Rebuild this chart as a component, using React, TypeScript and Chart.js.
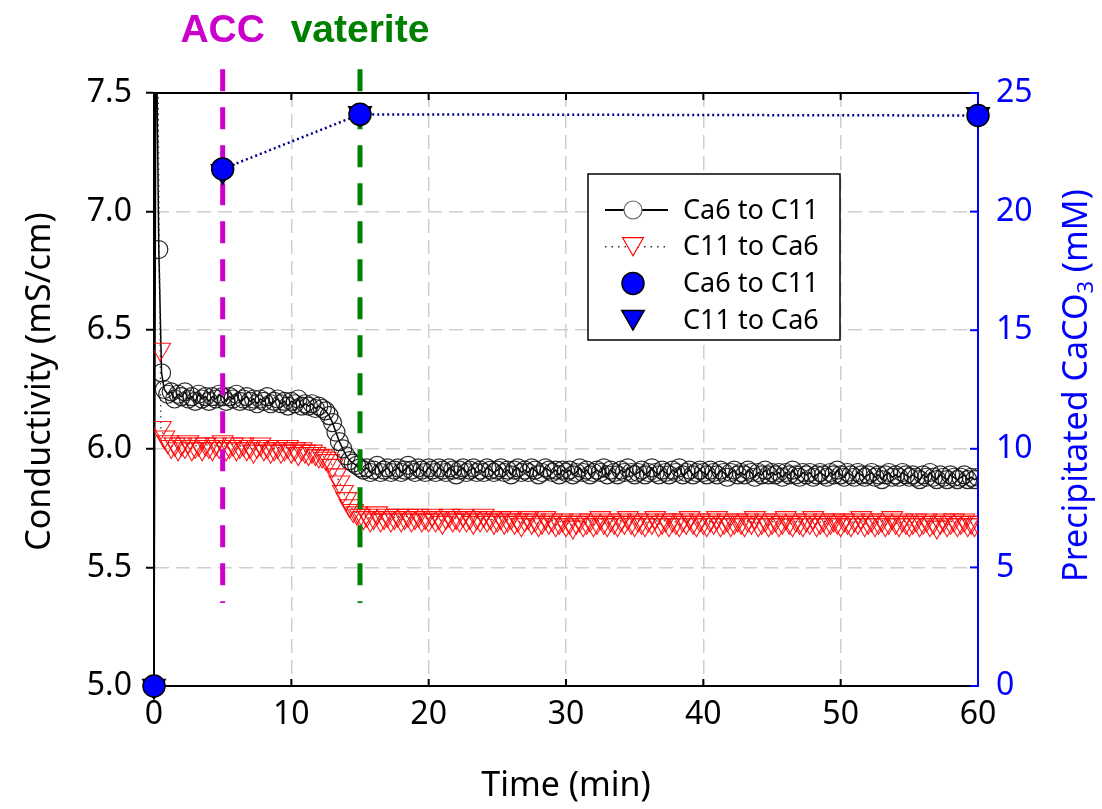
import React, { useEffect, useRef } from "react";
import { Chart, registerables } from "chart.js";

Chart.register(...registerables);

// ---------------- DATA ----------------
// Shared sampling times (min) after the initial spike
const timeMain = [
  1, 1.25, 1.5, 1.75, 2, 2.25, 2.5, 2.75, 3, 3.25, 3.5, 3.75, 4, 4.25, 4.5, 4.75, 5, 5.25, 5.5, 5.75,
  6, 6.25, 6.5, 6.75, 7, 7.25, 7.5, 7.75, 8, 8.25, 8.5, 8.75, 9, 9.25, 9.5, 9.75, 10, 10.25, 10.5, 10.75,
  11, 11.25, 11.5, 11.75, 12, 12.25, 12.5, 12.75, 13, 13.25, 13.5, 13.75, 14, 14.25, 14.5, 14.75, 15,
  15.25, 15.5, 15.75, 16, 16.25, 16.5, 16.75, 17, 17.25, 17.5, 17.75, 18, 18.25, 18.5, 18.75, 19, 19.25, 19.5, 19.75, 20,
  20.25, 20.5, 20.75, 21, 21.25, 21.5, 21.75, 22, 22.25, 22.5, 22.75, 23, 23.25, 23.5, 23.75, 24, 24.25, 24.5, 24.75, 25,
  25.25, 25.5, 25.75, 26, 26.25, 26.5, 26.75, 27, 27.25, 27.5, 27.75, 28, 28.25, 28.5, 28.75, 29, 29.25, 29.5, 29.75, 30,
  30.25, 30.5, 30.75, 31, 31.25, 31.5, 31.75, 32, 32.25, 32.5, 32.75, 33, 33.25, 33.5, 33.75, 34, 34.25, 34.5, 34.75, 35,
  35.25, 35.5, 35.75, 36, 36.25, 36.5, 36.75, 37, 37.25, 37.5, 37.75, 38, 38.25, 38.5, 38.75, 39, 39.25, 39.5, 39.75, 40,
  40.25, 40.5, 40.75, 41, 41.25, 41.5, 41.75, 42, 42.25, 42.5, 42.75, 43, 43.25, 43.5, 43.75, 44, 44.25, 44.5, 44.75, 45,
  45.25, 45.5, 45.75, 46, 46.25, 46.5, 46.75, 47, 47.25, 47.5, 47.75, 48, 48.25, 48.5, 48.75, 49, 49.25, 49.5, 49.75, 50,
  50.25, 50.5, 50.75, 51, 51.25, 51.5, 51.75, 52, 52.25, 52.5, 52.75, 53, 53.25, 53.5, 53.75, 54, 54.25, 54.5, 54.75, 55,
  55.25, 55.5, 55.75, 56, 56.25, 56.5, 56.75, 57, 57.25, 57.5, 57.75, 58, 58.25, 58.5, 58.75, 59, 59.25, 59.5, 59.75, 60,
];

// Conductivity (mS/cm), "Ca6 to C11" (open black circles, solid line)
const timeStartCa6C11 = [0, 0.15, 0.35, 0.55, 0.75];
const condStartCa6C11 = [5.0, 7.9, 6.84, 6.32, 6.25];
const condCa6C11 = [
  6.23, 6.24, 6.21, 6.23, 6.22, 6.24, 6.21, 6.22, 6.2, 6.23, 6.21, 6.22, 6.2, 6.22, 6.21, 6.23, 6.22, 6.2, 6.22, 6.21,
  6.23, 6.2, 6.21, 6.22, 6.2, 6.21, 6.19, 6.21, 6.2, 6.22, 6.19, 6.2, 6.21, 6.19, 6.2, 6.18, 6.2, 6.19, 6.21, 6.18,
  6.19, 6.18, 6.19, 6.17, 6.18, 6.17, 6.16, 6.14, 6.11, 6.07, 6.03, 6.0, 5.97, 5.95, 5.94, 5.93, 5.92,
  5.91, 5.92, 5.9, 5.91, 5.93, 5.9, 5.91, 5.92, 5.9, 5.91, 5.92, 5.9, 5.91, 5.93, 5.91, 5.9, 5.92, 5.91, 5.9, 5.92,
  5.91, 5.9, 5.92, 5.91, 5.9, 5.92, 5.91, 5.89, 5.91, 5.92, 5.9, 5.91, 5.92, 5.9, 5.91, 5.9, 5.92, 5.91, 5.9, 5.91,
  5.92, 5.9, 5.91, 5.89, 5.91, 5.92, 5.9, 5.91, 5.9, 5.92, 5.91, 5.89, 5.9, 5.92, 5.91, 5.9, 5.91, 5.89, 5.91, 5.9,
  5.91, 5.89, 5.9, 5.92, 5.9, 5.91, 5.89, 5.9, 5.91, 5.9, 5.92, 5.89, 5.91, 5.9, 5.89, 5.91, 5.9, 5.92, 5.9, 5.89,
  5.9, 5.91, 5.89, 5.9, 5.92, 5.9, 5.89, 5.91, 5.9, 5.89, 5.91, 5.9, 5.92, 5.89, 5.9, 5.91, 5.89, 5.9, 5.91, 5.9,
  5.89, 5.91, 5.9, 5.89, 5.91, 5.9, 5.88, 5.9, 5.91, 5.89, 5.9, 5.89, 5.91, 5.9, 5.88, 5.9, 5.89, 5.91, 5.89, 5.9,
  5.89, 5.9, 5.88, 5.9, 5.89, 5.91, 5.89, 5.88, 5.9, 5.89, 5.9, 5.88, 5.89, 5.9, 5.89, 5.88, 5.9, 5.89, 5.91, 5.89,
  5.88, 5.9, 5.89, 5.88, 5.9, 5.89, 5.88, 5.89, 5.9, 5.88, 5.89, 5.87, 5.89, 5.9, 5.88, 5.89, 5.88, 5.9, 5.89, 5.88,
  5.89, 5.88, 5.87, 5.89, 5.88, 5.9, 5.88, 5.87, 5.89, 5.88, 5.87, 5.89, 5.88, 5.87, 5.88, 5.89, 5.87, 5.88, 5.87, 5.88,
];

// Conductivity (mS/cm), "C11 to Ca6" (open red down-triangles, dotted line)
const timeStartC11Ca6 = [0.25, 0.45, 0.5, 0.75];
const condStartC11Ca6 = [7.9, 6.42, 6.09, 6.05];
const condC11Ca6 = [
  6.03, 6.01, 6.02, 6.0, 6.02, 6.01, 6.03, 6.0, 6.01, 6.02, 6.0, 6.02, 6.01, 6.0, 6.02, 6.01, 6.03, 6.0, 6.01, 6.02,
  6.0, 6.01, 6.02, 6.0, 6.01, 5.99, 6.01, 6.02, 6.0, 6.01, 5.99, 6.0, 6.01, 5.99, 6.0, 6.01, 5.99, 6.0, 5.98, 6.0,
  5.99, 5.98, 5.99, 5.98, 5.97, 5.97, 5.96, 5.95, 5.93, 5.89, 5.86, 5.82, 5.79, 5.76, 5.74, 5.73, 5.72,
  5.71, 5.72, 5.7, 5.71, 5.73, 5.7, 5.71, 5.72, 5.7, 5.71, 5.72, 5.7, 5.71, 5.72, 5.7, 5.71, 5.72, 5.7, 5.71, 5.7,
  5.72, 5.7, 5.71, 5.69, 5.71, 5.72, 5.7, 5.71, 5.7, 5.72, 5.7, 5.71, 5.69, 5.71, 5.7, 5.72, 5.7, 5.71, 5.69, 5.7,
  5.71, 5.69, 5.7, 5.71, 5.69, 5.7, 5.68, 5.7, 5.71, 5.69, 5.7, 5.68, 5.69, 5.71, 5.69, 5.7, 5.68, 5.69, 5.7, 5.68,
  5.69, 5.67, 5.69, 5.7, 5.68, 5.69, 5.7, 5.68, 5.69, 5.71, 5.69, 5.68, 5.7, 5.69, 5.68, 5.7, 5.69, 5.71, 5.69, 5.68,
  5.7, 5.69, 5.68, 5.7, 5.69, 5.71, 5.68, 5.69, 5.7, 5.68, 5.7, 5.69, 5.68, 5.7, 5.69, 5.71, 5.69, 5.68, 5.7, 5.69,
  5.68, 5.7, 5.69, 5.71, 5.68, 5.69, 5.7, 5.68, 5.69, 5.7, 5.69, 5.68, 5.7, 5.69, 5.71, 5.68, 5.69, 5.7, 5.68, 5.69,
  5.7, 5.68, 5.69, 5.71, 5.69, 5.68, 5.7, 5.69, 5.68, 5.7, 5.69, 5.71, 5.68, 5.69, 5.7, 5.68, 5.69, 5.7, 5.69, 5.68,
  5.7, 5.69, 5.68, 5.7, 5.69, 5.71, 5.68, 5.69, 5.7, 5.68, 5.69, 5.7, 5.68, 5.69, 5.71, 5.69, 5.68, 5.7, 5.69, 5.68,
  5.69, 5.7, 5.68, 5.69, 5.7, 5.68, 5.69, 5.67, 5.69, 5.7, 5.68, 5.69, 5.7, 5.68, 5.69, 5.7, 5.68, 5.69, 5.68, 5.69,
];

// Precipitated CaCO3 (mM), right axis
const precipTime = [0, 5, 15, 60];
const precipCa6C11 = [0, 21.8, 24.1, 24.05];
const precipC11Ca6 = [0, 21.7, 24.15, 24.1];

// Annotations
const annotationTimes = [5, 15];
const annotationLabels = ["ACC", "vaterite"];
const annotationColors = ["#cc00cc", "#008000"];
const annotationExtent = [5.35, 7.6]; // conductivity range covered by the dashed markers

const seriesLabels = ["Ca6 to C11", "C11 to Ca6", "Ca6 to C11", "C11 to Ca6"];

// Axis titles
const xTitle = "Time (min)";
const yTitle = "Conductivity (mS/cm)";
const y1TitleParts = ["Precipitated CaCO", "3", " (mM)"];

// ---------------- STYLE ----------------
const FONT = "'Noto Sans', 'DejaVu Sans', sans-serif";
const GRID = "#cfcfcf";

function drawCircle(ctx: CanvasRenderingContext2D, x: number, y: number, r: number, fill: string | null, stroke: string, lw: number) {
  ctx.beginPath();
  ctx.arc(x, y, r, 0, Math.PI * 2);
  if (fill) {
    ctx.fillStyle = fill;
    ctx.fill();
  }
  ctx.lineWidth = lw;
  ctx.strokeStyle = stroke;
  ctx.stroke();
}

function drawDownTriangle(ctx: CanvasRenderingContext2D, x: number, y: number, r: number, fill: string | null, stroke: string, lw: number) {
  const h = (r * Math.sqrt(3)) / 2;
  ctx.beginPath();
  ctx.moveTo(x, y + r);
  ctx.lineTo(x - h, y - r / 2);
  ctx.lineTo(x + h, y - r / 2);
  ctx.closePath();
  if (fill) {
    ctx.fillStyle = fill;
    ctx.fill();
  }
  ctx.lineWidth = lw;
  ctx.strokeStyle = stroke;
  ctx.stroke();
}

const overlayPlugin = {
  id: "overlay",
  afterDatasetDraw(chart: any, args: any) {
    if (args.index !== 1) return;
    const ctx: CanvasRenderingContext2D = chart.ctx;
    const xs = chart.scales.x;
    const ys = chart.scales.y;
    ctx.save();
    annotationTimes.forEach((t, i) => {
      const px = xs.getPixelForValue(t);
      ctx.beginPath();
      ctx.setLineDash([22, 16]);
      ctx.lineWidth = 5;
      ctx.strokeStyle = annotationColors[i];
      ctx.moveTo(px, ys.getPixelForValue(annotationExtent[1]));
      ctx.lineTo(px, ys.getPixelForValue(annotationExtent[0]));
      ctx.stroke();
    });
    ctx.restore();
  },
  afterDraw(chart: any) {
    const ctx: CanvasRenderingContext2D = chart.ctx;
    const xs = chart.scales.x;
    const y1 = chart.scales.y1;
    const { left, right, top, bottom } = chart.chartArea;
    ctx.save();
    ctx.setLineDash([]);

    // top border
    ctx.beginPath();
    ctx.strokeStyle = "#000";
    ctx.lineWidth = 2;
    ctx.moveTo(left - 1, top);
    ctx.lineTo(right, top);
    ctx.stroke();

    // inward x ticks (bottom and top)
    xs.ticks.forEach((tk: any) => {
      const px = xs.getPixelForValue(tk.value);
      if (tk.value === 0 || tk.value === 60) return;
      ctx.beginPath();
      ctx.moveTo(px, bottom);
      ctx.lineTo(px, bottom - 7);
      ctx.moveTo(px, top);
      ctx.lineTo(px, top + 7);
      ctx.stroke();
    });

    // inward right-axis ticks
    ctx.strokeStyle = "#0000ff";
    y1.ticks.forEach((tk: any) => {
      const py = y1.getPixelForValue(tk.value);
      ctx.beginPath();
      ctx.moveTo(right, py);
      ctx.lineTo(right - 8, py);
      ctx.stroke();
    });

    // annotation labels
    ctx.font = `bold 39px 'Liberation Sans', Arial, sans-serif`;
    ctx.textAlign = "center";
    ctx.textBaseline = "alphabetic";
    annotationTimes.forEach((t, i) => {
      ctx.fillStyle = annotationColors[i];
      ctx.fillText(annotationLabels[i], xs.getPixelForValue(t), 42);
    });

    // axis titles
    ctx.fillStyle = "#000";
    ctx.font = `34px ${FONT}`;
    ctx.textAlign = "center";
    ctx.textBaseline = "middle";
    ctx.fillText(xTitle, (left + right) / 2, 786);

    ctx.save();
    ctx.translate(40, (top + bottom) / 2 - 8);
    ctx.rotate(-Math.PI / 2);
    ctx.fillText(yTitle, 0, 0);
    ctx.restore();

    // right title with subscript
    ctx.save();
    ctx.fillStyle = "#0000ff";
    const mainFont = `34px ${FONT}`;
    const subFont = `22px ${FONT}`;
    ctx.font = mainFont;
    const w0 = ctx.measureText(y1TitleParts[0]).width;
    const w2 = ctx.measureText(y1TitleParts[2]).width;
    ctx.font = subFont;
    const w1 = ctx.measureText(y1TitleParts[1]).width;
    const total = w0 + w1 + w2;
    ctx.translate(1077, (top + bottom) / 2 - 4);
    ctx.rotate(-Math.PI / 2);
    ctx.textAlign = "left";
    ctx.textBaseline = "middle";
    let cx = -total / 2;
    ctx.font = mainFont;
    ctx.fillText(y1TitleParts[0], cx, 0);
    cx += w0;
    ctx.font = subFont;
    ctx.fillText(y1TitleParts[1], cx, 10);
    cx += w1;
    ctx.font = mainFont;
    ctx.fillText(y1TitleParts[2], cx, 0);
    ctx.restore();

    // legend
    const lx = 588, ly = 174, lw = 252, lh = 166;
    ctx.fillStyle = "#fff";
    ctx.fillRect(lx, ly, lw, lh);
    ctx.strokeStyle = "#000";
    ctx.lineWidth = 1.5;
    ctx.strokeRect(lx, ly, lw, lh);
    const rowY = (i: number) => ly + 36 + i * 36.7;
    const symX = lx + 45;
    ctx.beginPath();
    ctx.lineWidth = 2;
    ctx.strokeStyle = "#000";
    ctx.moveTo(lx + 17, rowY(0));
    ctx.lineTo(lx + 80, rowY(0));
    ctx.stroke();
    drawCircle(ctx, symX, rowY(0), 9, "#fff", "#666", 1.2);
    ctx.beginPath();
    ctx.setLineDash([1.5, 5]);
    ctx.lineWidth = 1.5;
    ctx.strokeStyle = "#333";
    ctx.moveTo(lx + 17, rowY(1));
    ctx.lineTo(lx + 80, rowY(1));
    ctx.stroke();
    ctx.setLineDash([]);
    drawDownTriangle(ctx, symX, rowY(1) - 3, 12, "#fff", "#ff0000", 1.2);
    drawCircle(ctx, symX, rowY(2), 11, "#0000ff", "#000", 1.5);
    drawDownTriangle(ctx, symX, rowY(3) - 3, 13, "#0000ff", "#000", 1.5);

    ctx.fillStyle = "#000";
    ctx.font = `27px ${FONT}`;
    ctx.textAlign = "left";
    ctx.textBaseline = "middle";
    seriesLabels.forEach((s, i) => ctx.fillText(s, lx + 95, rowY(i) + 1));

    ctx.restore();
  },
};

export default function App() {
  const canvasRef = useRef<HTMLCanvasElement | null>(null);

  useEffect(() => {
    if (!canvasRef.current) return;
    const gridColor = (c: any) => (c.index === 0 || c.index === 6 ? "rgba(0,0,0,0)" : GRID);
    const yGridColor = (c: any) => (c.index === 0 || c.index === 5 ? "rgba(0,0,0,0)" : GRID);
    const seriesA = [
      ...timeStartCa6C11.map((t, i) => ({ x: t, y: condStartCa6C11[i] })),
      ...timeMain.map((t, i) => ({ x: t, y: condCa6C11[i] })),
    ];
    const seriesB = [
      ...timeStartC11Ca6.map((t, i) => ({ x: t, y: condStartC11Ca6[i] })),
      ...timeMain.map((t, i) => ({ x: t, y: condC11Ca6[i] })),
    ];
    const chart = new Chart(canvasRef.current, {
      type: "line",
      data: {
        datasets: [
          {
            label: seriesLabels[0],
            data: seriesA,
            yAxisID: "y",
            borderColor: "#000",
            borderWidth: 1.5,
            pointStyle: "circle",
            pointRadius: 9,
            pointBorderWidth: 1.2,
            pointBorderColor: "rgba(20,20,20,0.9)",
            pointBackgroundColor: "rgba(0,0,0,0)",
            order: 2,
          },
          {
            label: seriesLabels[1],
            data: seriesB,
            yAxisID: "y",
            borderColor: "#333",
            borderWidth: 1.2,
            borderDash: [1.5, 4],
            pointStyle: "triangle",
            rotation: 180,
            pointRadius: 12,
            pointBorderWidth: 1.1,
            pointBorderColor: "rgba(255,0,0,0.9)",
            pointBackgroundColor: "rgba(0,0,0,0)",
            order: 1,
          },
          {
            label: seriesLabels[2],
            data: precipTime.map((t, i) => ({ x: t, y: precipCa6C11[i] })),
            yAxisID: "y1",
            borderColor: "#00008b",
            borderWidth: 2.5,
            borderDash: [2, 3],
            segment: { borderColor: (c: any) => (c.p0DataIndex === 0 ? "rgba(0,0,0,0)" : "#00008b") },
            pointStyle: "circle",
            pointRadius: 11,
            pointBorderWidth: 1.5,
            pointBorderColor: "#000",
            pointBackgroundColor: "#0000ff",
            order: 0,
            clip: false as any,
          },
          {
            label: seriesLabels[3],
            data: precipTime.map((t, i) => ({ x: t, y: precipC11Ca6[i] })),
            yAxisID: "y1",
            showLine: false,
            pointStyle: "triangle",
            rotation: 180,
            pointRadius: 13,
            pointBorderWidth: 1.5,
            pointBorderColor: "#000",
            pointBackgroundColor: "#0000ff",
            order: 0,
            clip: false as any,
          },
        ],
      },
      options: {
        responsive: false,
        animation: false,
        layout: { padding: { top: 93, left: 0, right: 0, bottom: 0 } },
        plugins: { legend: { display: false }, tooltip: { enabled: false } },
        elements: { line: { tension: 0 } },
        scales: {
          x: {
            type: "linear",
            min: 0,
            max: 60,
            ticks: { stepSize: 10, color: "#000", font: { family: FONT, size: 32 }, padding: 10, maxRotation: 0 },
            grid: { color: gridColor, lineWidth: 1.5, drawTicks: false, borderDash: [14, 7] } as any,
            border: { color: "#000", width: 2, dash: [14, 7] },
            afterFit: (s: any) => {
              s.height = 123;
            },
          },
          y: {
            position: "left",
            min: 5,
            max: 7.5,
            ticks: {
              stepSize: 0.5,
              color: "#000",
              font: { family: FONT, size: 32 },
              padding: 14,
              callback: (v: any) => Number(v).toFixed(1),
            },
            grid: { color: yGridColor, lineWidth: 1.5, drawTicks: true, tickLength: 8, tickColor: "#000", tickWidth: 2, borderDash: [14, 7] } as any,
            border: { color: "#000", width: 2, dash: [14, 7] },
            afterFit: (s: any) => {
              s.width = 154;
            },
          },
          y1: {
            position: "right",
            min: 0,
            max: 25,
            ticks: { stepSize: 5, color: "#0000ff", font: { family: FONT, size: 32 }, padding: 18 },
            grid: { drawOnChartArea: false, drawTicks: false },
            border: { color: "#0000ff", width: 2 },
            afterFit: (s: any) => {
              s.width = 124;
            },
          },
        },
      },
      plugins: [overlayPlugin],
    });
    return () => chart.destroy();
  }, []);

  return (
    <div style={{ position: "absolute", left: 0, top: 0, width: 1102, height: 809, background: "#fff" }}>
      <canvas ref={canvasRef} width={1102} height={809} style={{ width: 1102, height: 809, display: "block" }} />
    </div>
  );
}
